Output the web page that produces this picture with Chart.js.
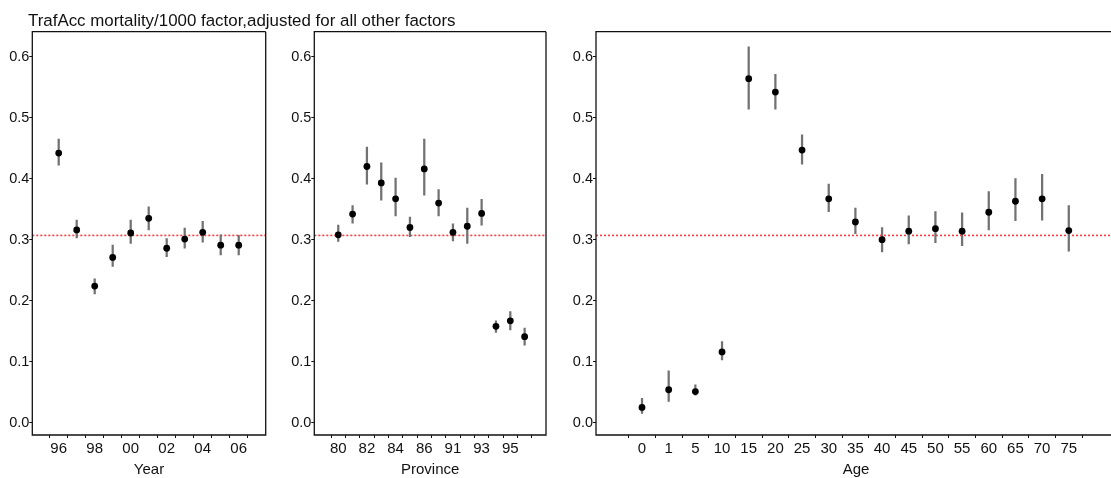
<!DOCTYPE html>
<html>
<head>
<meta charset="utf-8">
<title>TrafAcc mortality/1000 factor</title>
<script src="https://cdn.jsdelivr.net/npm/chart.js@4.4.1/dist/chart.umd.min.js"></script>
<style>
  html, body { margin: 0; padding: 0; background: #fff; overflow: hidden; }
  body { width: 1111px; height: 478px; position: relative; }
  .panel { position: absolute; top: 0; height: 478px; }
  #title {
    position: absolute; left: 28px; top: 13px; z-index: 2;
    font: 16.9px "Liberation Sans", Arial, sans-serif; line-height: 1;
    color: #111; white-space: nowrap;
  }
</style>
</head>
<body>
<div class="panel" style="left:0;width:270px"><canvas id="yearChart"></canvas></div>
<div class="panel" style="left:280px;width:270px"><canvas id="provChart"></canvas></div>
<div class="panel" style="left:560px;width:564px"><canvas id="ageChart"></canvas></div>
<div id="title">TrafAcc mortality/1000 factor,adjusted for all other factors</div>

<script>
// shared y axis
const yTicks = [0, 0.1, 0.2, 0.3, 0.4, 0.5, 0.6];
const refLine = 0.307;

// Year panel
const yearLabels = ["96", "97", "98", "99", "00", "01", "02", "03", "04", "05", "06"];
const yearEst = [0.442, 0.316, 0.224, 0.271, 0.311, 0.335, 0.286, 0.301, 0.312, 0.291, 0.291];
const yearLo  = [0.422, 0.303, 0.211, 0.256, 0.294, 0.316, 0.272, 0.286, 0.296, 0.275, 0.275];
const yearHi  = [0.465, 0.332, 0.236, 0.291, 0.332, 0.354, 0.302, 0.319, 0.330, 0.308, 0.307];

// Province panel
const provLabels = ["80", "81", "82", "83", "84", "85", "86", "90", "91", "92", "93", "94", "95", "96"];
const provEst = [0.308, 0.342, 0.420, 0.393, 0.367, 0.320, 0.416, 0.360, 0.312, 0.322, 0.343, 0.158, 0.167, 0.141];
const provLo  = [0.297, 0.327, 0.391, 0.365, 0.339, 0.305, 0.373, 0.339, 0.298, 0.294, 0.324, 0.148, 0.152, 0.127];
const provHi  = [0.324, 0.356, 0.452, 0.426, 0.401, 0.337, 0.465, 0.382, 0.326, 0.352, 0.366, 0.167, 0.182, 0.155];

// Age panel
const ageLabels = ["0", "1", "5", "10", "15", "20", "25", "30", "35", "40", "45", "50", "55", "60", "65", "70", "75"];
const ageEst = [0.025, 0.054, 0.051, 0.116, 0.564, 0.542, 0.447, 0.367, 0.329, 0.300, 0.314, 0.318, 0.314, 0.345, 0.363, 0.367, 0.315];
const ageLo  = [0.015, 0.035, 0.045, 0.103, 0.514, 0.514, 0.424, 0.346, 0.310, 0.280, 0.293, 0.295, 0.290, 0.316, 0.331, 0.332, 0.281];
const ageHi  = [0.040, 0.085, 0.062, 0.133, 0.616, 0.571, 0.472, 0.391, 0.352, 0.320, 0.339, 0.346, 0.344, 0.379, 0.400, 0.407, 0.356];

Chart.defaults.font.family = '"Liberation Sans", Arial, sans-serif';
Chart.defaults.color = "#111";

// box around the plot area (right side optional, the last panel runs off the page)
const framePlugin = {
  id: "frame",
  afterDraw(chart, args, opts) {
    const a = chart.chartArea;
    const ctx = chart.ctx;
    ctx.save();
    ctx.strokeStyle = "#111";
    ctx.lineWidth = 1.3;
    ctx.beginPath();
    ctx.moveTo(a.right, a.top);
    ctx.lineTo(a.left, a.top);
    ctx.lineTo(a.left, a.bottom);
    ctx.lineTo(a.right, a.bottom);
    if (opts.right !== false) ctx.lineTo(a.right, a.top);
    ctx.stroke();
    ctx.restore();
  }
};

function makePanel(id, p) {
  const idx = p.labels.map((_, i) => i);
  new Chart(document.getElementById(id), {
    type: "scatter",
    data: {
      datasets: [
        {
          type: "scatter",
          data: p.est.map((v, i) => ({ x: i, y: v })),
          backgroundColor: "#000",
          borderWidth: 0,
          pointRadius: 3.4,
          order: 0
        },
        {
          type: "bar",
          data: p.lo.map((v, i) => ({ x: i, y: [v, p.hi[i]] })),
          backgroundColor: "#727272",
          borderWidth: 0,
          barThickness: 1.6,
          order: 1
        },
        {
          type: "line",
          data: [{ x: p.xMin, y: refLine }, { x: p.xMax, y: refLine }],
          borderColor: "#ff3b3b",
          borderWidth: 1.6,
          borderDash: [2, 2],
          pointRadius: 0,
          order: 2
        }
      ]
    },
    options: {
      responsive: true,
      maintainAspectRatio: false,
      animation: false,
      devicePixelRatio: 1,
      layout: { padding: { top: 31.7, bottom: 0, left: 0, right: p.padRight } },
      plugins: {
        legend: { display: false },
        tooltip: { enabled: false },
        frame: { right: p.rightBorder }
      },
      scales: {
        x: {
          type: "linear",
          min: p.xMin,
          max: p.xMax,
          offset: false,
          afterFit: s => { s.height = 43; },
          afterBuildTicks: s => { s.ticks = idx.map(v => ({ value: v })); },
          grid: { drawOnChartArea: false, drawTicks: true, tickLength: 3, color: "#111" },
          border: { display: false },
          ticks: {
            autoSkip: false,
            maxRotation: 0,
            padding: 2,
            color: "#111",
            font: { size: 15 },
            callback: v => (p.everyOther && v % 2 === 1) ? "" : p.labels[v]
          },
          title: { display: true, text: p.title, color: "#111", font: { size: 15 }, padding: { top: 0, bottom: -1 } }
        },
        y: {
          min: -0.0202,
          max: 0.641,
          afterFit: s => { s.width = p.yWidth; },
          afterBuildTicks: s => { s.ticks = yTicks.map(v => ({ value: v })); },
          grid: { drawOnChartArea: false, drawTicks: true, tickLength: 3, color: "#111" },
          border: { display: false },
          ticks: {
            padding: 0,
            color: "#111",
            font: { size: 14.5 },
            callback: v => v.toFixed(1)
          }
        }
      }
    },
    plugins: [framePlugin]
  });
}

makePanel("yearChart", {
  labels: yearLabels, est: yearEst, lo: yearLo, hi: yearHi,
  xMin: -1.467, xMax: 11.5, yWidth: 32.3, padRight: 4.3,
  everyOther: true, title: "Year", rightBorder: true
});

makePanel("provChart", {
  labels: provLabels, est: provEst, lo: provLo, hi: provHi,
  xMin: -1.67, xMax: 14.49, yWidth: 34.3, padRight: 3.3,
  everyOther: true, title: "Province", rightBorder: true
});

makePanel("ageChart", {
  labels: ageLabels, est: ageEst, lo: ageLo, hi: ageHi,
  xMin: -1.725, xMax: 17.77, yWidth: 36, padRight: 8,
  everyOther: false, title: "Age", rightBorder: false
});
</script>
</body>
</html>
